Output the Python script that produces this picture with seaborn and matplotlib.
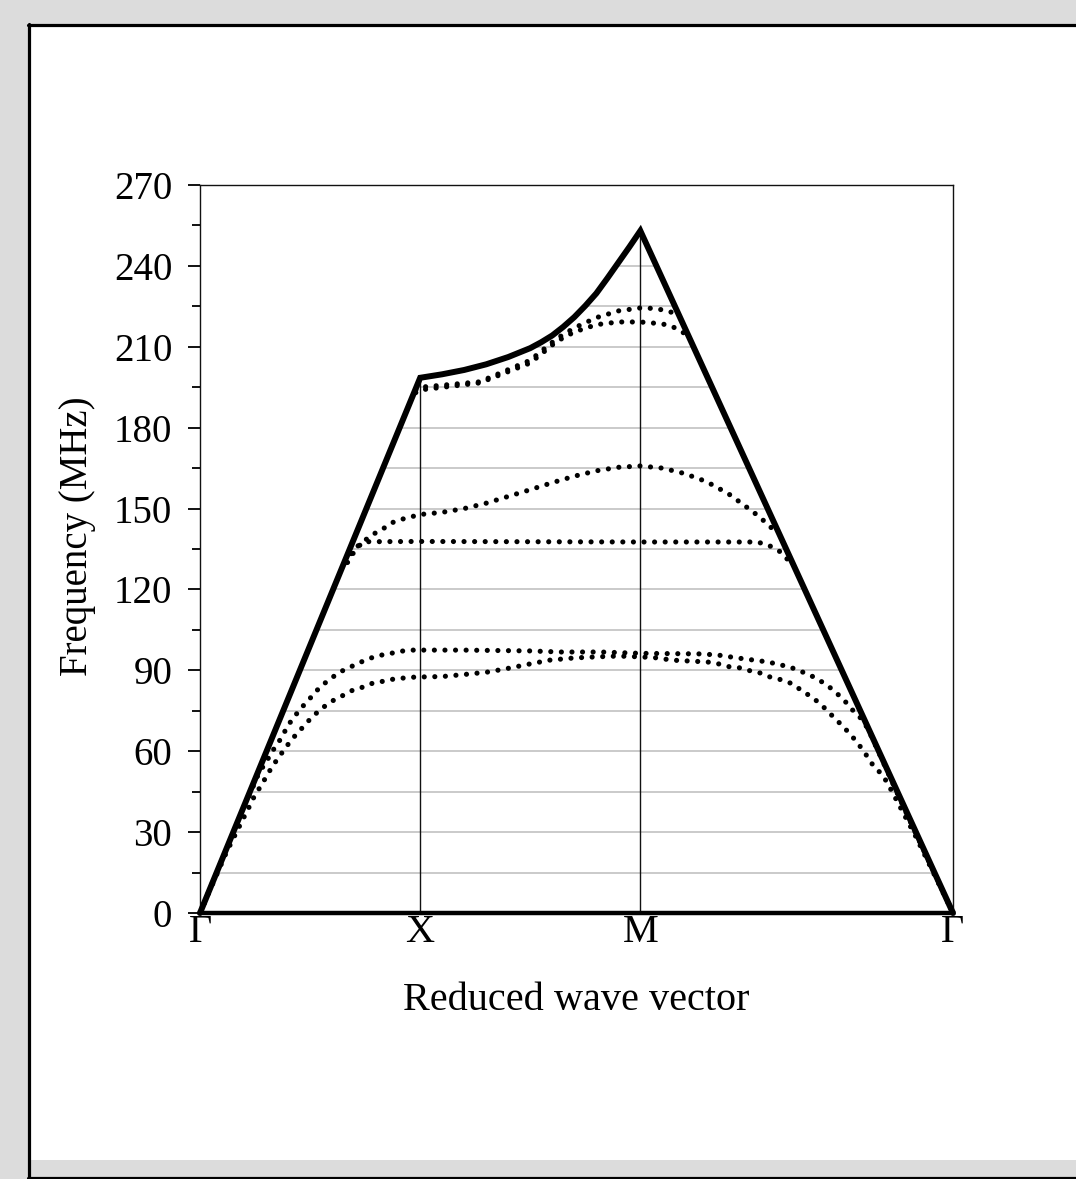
import numpy as np
import pandas as pd
import matplotlib
matplotlib.use("Agg")
import matplotlib.pyplot as plt
import seaborn as sns
from matplotlib.patches import Polygon, Rectangle
from matplotlib.lines import Line2D
from matplotlib.ticker import MultipleLocator

# ---------------- data ----------------
k_ticks = [0.0, 1.0, 2.0, 3.42]
k_labels = ["Γ", "X", "M", "Γ"]

# solid boundary (sound line) Γ -> X -> M -> Γ
bound_k = [0.0, 1.0, 1.1, 1.2, 1.3, 1.4, 1.5, 1.55, 1.6, 1.65, 1.7, 1.75, 1.8,
           1.85, 1.9, 1.95, 2.0, 3.42]
bound_f = [0.0, 198.5, 199.8, 201.4, 203.5, 206.2, 209.5, 211.7, 214.2, 217.4, 221.0, 225.2, 229.8,
           235.4, 241.2, 247.0, 253.0, 0.0]

# band A (lower of the top pair)
bandA_k = [0.98, 1.0, 1.27, 1.5, 1.62, 1.7, 1.8, 1.9, 2.0, 2.1, 2.15, 2.2, 2.22]
bandA_f = [193.0, 194.0, 196.6, 204.0, 212.0, 215.5, 218.2, 219.2, 219.2, 218.5, 217.3, 215.0, 214.2]

# band B (upper of the top pair)
bandB_k = [0.98, 1.0, 1.27, 1.5, 1.62, 1.7, 1.8, 1.9, 2.0, 2.07, 2.12, 2.15]
bandB_f = [194.0, 195.0, 197.0, 205.0, 213.0, 217.0, 220.8, 223.3, 224.4, 224.2, 223.3, 222.6]

# band C (flat ~138)
bandC_k = [0.67, 0.70, 0.74, 1.0, 1.5, 2.0, 2.53, 2.58, 2.63, 2.67]
bandC_f = [130.0, 134.0, 137.7, 137.8, 137.7, 137.6, 137.6, 136.5, 134.3, 131.0]

# band D (148 at X, 166 at M)
bandD_k = [0.66, 0.70, 0.78, 0.83, 0.87, 0.92, 1.0, 1.1, 1.2, 1.3, 1.4, 1.5, 1.6,
           1.7, 1.8, 1.9, 2.0, 2.1, 2.2, 2.3, 2.4, 2.45, 2.5, 2.54, 2.58, 2.62]
bandD_f = [130.0, 135.0, 140.2, 142.4, 144.7, 146.1, 147.8, 148.6, 150.0, 152.0, 154.5, 157.0, 159.6,
           162.0, 164.0, 165.3, 165.8, 165.0, 163.0, 160.0, 155.5, 152.5, 149.5, 147.0, 144.0, 141.0]

# band E (~97 flat)
bandE_k = [0.0, 0.15, 0.273, 0.286, 0.314, 0.341, 0.373, 0.395, 0.427, 0.464, 0.505, 0.545, 0.591,
           0.636, 0.682, 0.732, 0.777, 0.827, 0.873, 0.923, 0.968, 1.2, 1.5, 1.636, 1.82, 2.0,
           2.27, 2.35, 2.44, 2.58, 2.68, 2.77, 2.84, 2.886, 2.932, 2.968, 3.009, 3.036, 3.2, 3.42]
bandE_f = [0.0, 29.5, 53.0, 54.2, 57.9, 61.6, 65.3, 69.0, 72.7, 76.4, 80.1, 83.8, 86.8,
           89.4, 91.2, 93.1, 94.6, 95.7, 96.4, 97.2, 97.5, 97.5, 97.2, 96.8, 96.8, 96.3,
           96.1, 95.7, 94.6, 93.1, 91.2, 88.3, 85.0, 82.0, 78.3, 74.9, 71.6, 67.9, 38.5, 0.0]

# band F (88 at X, 95 at M)
bandF_k = [0.0, 0.12, 0.2, 0.223, 0.245, 0.273, 0.3, 0.327, 0.359, 0.391, 0.427, 0.468, 0.509,
           0.555, 0.6, 0.645, 0.695, 0.741, 0.786, 0.836, 0.882, 0.932, 0.977, 1.1, 1.218,
           1.31, 1.41, 1.5, 1.59, 1.7, 1.8, 1.9, 2.0, 2.08, 2.14, 2.21, 2.305, 2.355, 2.41,
           2.455, 2.5, 2.545, 2.59, 2.645, 2.69, 2.736, 2.786, 2.832, 2.877, 2.923, 2.964,
           3.0, 3.032, 3.059, 3.1, 3.127, 3.25, 3.42]
bandF_f = [0.0, 22.5, 35.6, 39.3, 43.0, 46.7, 50.4, 54.2, 57.9, 61.6, 65.3, 69.0, 72.7,
           76.0, 78.6, 80.5, 82.7, 83.8, 85.3, 86.0, 86.8, 87.2, 87.5, 87.7, 88.6,
           89.4, 90.9, 92.4, 93.8, 94.6, 95.0, 95.3, 95.0, 94.6, 93.8, 93.5, 93.1, 92.4, 91.2,
           90.9, 89.8, 89.0, 87.5, 86.4, 85.0, 82.3, 79.7, 76.4, 72.7, 69.0, 65.3,
           61.6, 57.9, 54.5, 51.2, 47.5, 28.5, 0.0]

grid_levels = list(range(15, 255, 15))
y_major = list(range(0, 271, 30))

# ---------------- style ----------------
sns.set_theme(style="white")
plt.rcParams["font.family"] = ["Liberation Serif", "DejaVu Serif"]
plt.rcParams["text.color"] = "black"
plt.rcParams["axes.labelcolor"] = "black"
plt.rcParams["xtick.color"] = "black"
plt.rcParams["ytick.color"] = "black"

W, H = 1076, 1179
fig = plt.figure(figsize=(W / 100, H / 100), dpi=100, facecolor="#dcdcdc")

# white panel with black frame (top / left / bottom)
fig.add_artist(Rectangle((29 / W, 1 - 1160 / H), 1.0, (1160 - 25) / H,
                         transform=fig.transFigure, facecolor="white",
                         edgecolor="none", zorder=-10))
fig.add_artist(Line2D([28 / W, 1.0], [1 - 24.5 / H] * 2, transform=fig.transFigure,
                      color="black", lw=2.3))
fig.add_artist(Line2D([29 / W] * 2, [1 - 24 / H, 1 - 1178 / H], transform=fig.transFigure,
                      color="black", lw=2.3))
fig.add_artist(Line2D([28 / W, 1.0], [1 - 1177.5 / H] * 2, transform=fig.transFigure,
                      color="black", lw=2.3))

ax = fig.add_axes([200 / W, 1 - 913 / H, 753 / W, 728 / H])
ax.set_facecolor("white")
ax.set_xlim(0, 3.42)
ax.set_ylim(0, 270)

# clip region = inside of sound-line polygon
clip_poly = Polygon(np.column_stack([bound_k, bound_f]), closed=True,
                    transform=ax.transData, facecolor="none", edgecolor="none")

for g in grid_levels:
    ln = ax.axhline(g, color="#c6c6c6", lw=1.3, zorder=1)
    ln.set_clip_path(clip_poly)
for kx in [1.0, 2.0]:
    ln = ax.axvline(kx, color="#111111", lw=1.0, zorder=1.5)
    ln.set_clip_path(clip_poly)

dot_style = dict(color="black", lw=3.7, linestyle=(0, (0.01, 2.05)),
                 dash_capstyle="round", estimator=None, sort=False, zorder=3)
for kk, ff in [(bandA_k, bandA_f), (bandB_k, bandB_f), (bandC_k, bandC_f),
               (bandD_k, bandD_f), (bandE_k, bandE_f), (bandF_k, bandF_f)]:
    sns.lineplot(x=kk, y=ff, ax=ax, **dot_style)

sns.lineplot(x=bound_k, y=bound_f, ax=ax, color="black", lw=4.3, estimator=None,
             sort=False, zorder=4, clip_on=False, solid_joinstyle="miter")

# spines
for s in ["left", "top", "right"]:
    ax.spines[s].set_visible(True)
    ax.spines[s].set_color("#111111")
    ax.spines[s].set_linewidth(1.0)
ax.spines["bottom"].set_visible(True)
ax.spines["bottom"].set_color("black")
ax.spines["bottom"].set_linewidth(3.2)
ax.spines["bottom"].set_zorder(5)

ax.set_yticks(y_major)
ax.set_yticklabels([str(v) for v in y_major])
ax.yaxis.set_minor_locator(MultipleLocator(15))
ax.tick_params(axis="y", which="major", direction="out", length=9, width=1.4,
               color="#111111", labelcolor="black", labelsize=28, pad=11, left=True)
ax.tick_params(axis="y", which="minor", direction="out", length=5.5, width=1.4,
               color="#111111", left=True)
ax.set_xticks(k_ticks)
ax.set_xticklabels(k_labels)
ax.tick_params(axis="x", which="both", length=0, labelsize=29, pad=1, labelcolor="black")

ax.set_xlabel("Reduced wave vector", fontsize=29, color="black")
ax.xaxis.set_label_coords(0.5, -0.095)
ax.xaxis.label.set_va("top")
ax.set_ylabel("")
fig.text(77 / W, 1 - 536 / H, "Frequency (MHz)", rotation=90, ha="center",
         va="center", fontsize=28, color="black")
ax.grid(False)

fig.savefig("out.png", dpi=100, facecolor=fig.get_facecolor())
